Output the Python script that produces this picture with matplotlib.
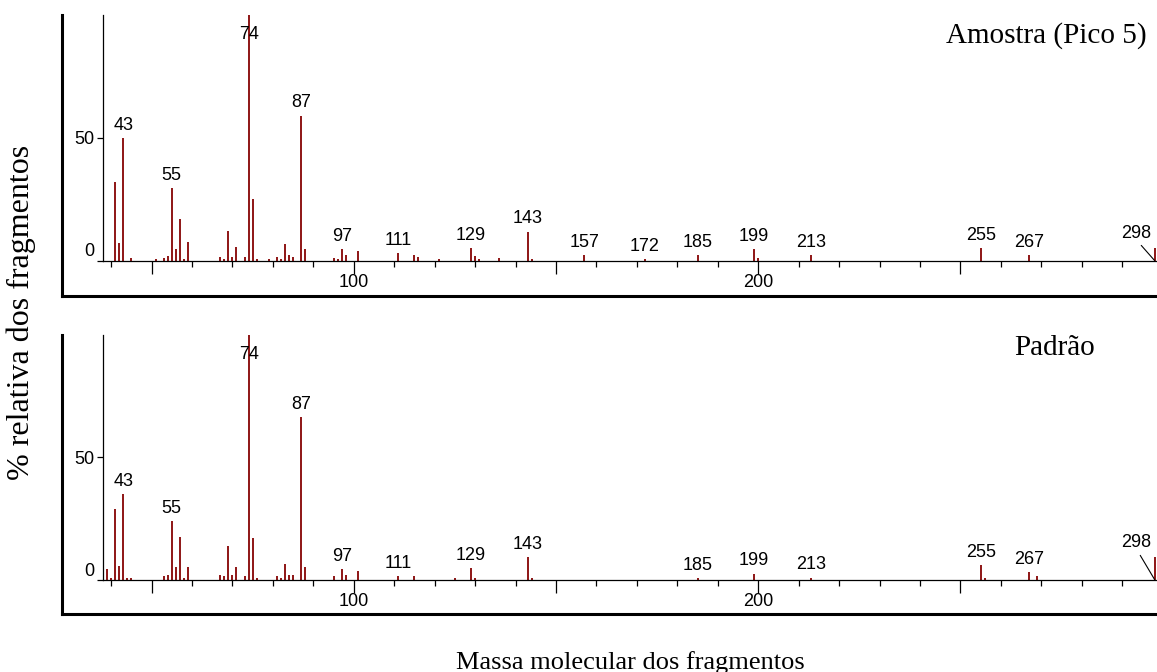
import matplotlib
matplotlib.use("Agg")
import matplotlib.pyplot as plt

# Espectro da amostra (pico 5): m/z e intensidade relativa (%)
amostra_mz = [41, 42, 43, 45, 51, 53, 54, 55, 56, 57, 58, 59, 67, 68, 69, 70, 71, 73,
              74, 75, 76, 79, 81, 82, 83, 84, 85, 87, 88, 95, 96, 97, 98, 101,
              111, 115, 116, 121, 129, 130, 131, 136, 143, 144, 157, 172, 185,
              199, 200, 213, 255, 267, 298]
amostra_int = [32, 7, 50, 1, 0.5, 1, 1.7, 29.6, 4.7, 17, 0.5, 7.5, 1.6, 0.5, 12, 1.6, 5.4, 1.6,
               100, 25, 0.5, 0.5, 1.6, 0.5, 6.7, 2.3, 1.6, 59, 4.7, 1, 0.5, 4.7, 2.3, 3.8,
               3.1, 2.3, 1.5, 0.7, 5.2, 1.7, 0.7, 0.9, 11.8, 0.7, 2.3, 0.7, 2.3,
               4.6, 1.2, 2.3, 5.2, 2.3, 5.2]
amostra_rotulos = [43, 55, 74, 87, 97, 111, 129, 143, 157, 172, 185, 199, 213, 255, 267, 298]

# Espectro do padrao
padrao_mz = [39, 40, 41, 42, 43, 44, 45, 53, 54, 55, 56, 57, 58, 59, 67, 68, 69, 70, 71, 73,
             74, 75, 76, 81, 82, 83, 84, 85, 87, 88, 95, 97, 98, 101,
             111, 115, 125, 129, 130, 143, 144, 185, 199, 213, 255, 256, 267, 269, 298]
padrao_int = [4.3, 0.8, 29, 5.6, 34.8, 0.7, 0.7, 1.3, 2, 24, 5, 17.3, 0.7, 5, 2, 1.3, 13.7, 2, 5, 1.3,
              100, 16.8, 0.7, 1.3, 0.7, 6.4, 2, 2, 66.4, 5, 1.3, 4.4, 2, 3.5,
              1.3, 1.3, 0.7, 4.5, 0.8, 9.3, 0.5, 0.5, 2.4, 0.8, 5.9, 0.5, 3.1, 1.3, 9]
padrao_rotulos = [43, 55, 74, 87, 97, 111, 129, 143, 185, 199, 213, 255, 267, 298]

W, H = 1157, 672
fig = plt.figure(figsize=(W / 100, H / 100), dpi=100)

def fx(px):
    return px / W

def fy(py):
    return 1 - py / H

cor = "#8e1515"
fonte_num = dict(family="Liberation Sans", fontsize=13)
serif = dict(family="Liberation Serif")


def painel(base, topo, moldura_topo, moldura_base, mz, inten, rotulos, titulo, tit_x, tit_y):
    # moldura externa em L
    fr = fig.add_axes([fx(62), fy(moldura_base), 1 - fx(62), (moldura_base - moldura_topo) / H])
    fr.set_facecolor("none")
    for s in ["top", "right"]:
        fr.spines[s].set_visible(False)
    for s in ["left", "bottom"]:
        fr.spines[s].set_linewidth(2.2)
    fr.set_xticks([])
    fr.set_yticks([])

    ax = fig.add_axes([fx(103), fy(base), 1 - fx(103), (base - topo) / H])
    ax.set_facecolor("none")
    ax.vlines(mz, 0, inten, color=cor, lw=1.4)
    ax.set_xlim(38, 298.6)
    ax.set_ylim(0, 100)
    for s in ["top", "right"]:
        ax.spines[s].set_visible(False)
    for s in ["left", "bottom"]:
        ax.spines[s].set_linewidth(0.9)
    ax.set_xticks([50, 100, 150, 200, 250], labels=["", "100", "", "200", ""], **fonte_num)
    ax.set_xticks(range(40, 300, 10), minor=True)
    ax.tick_params(axis="x", which="major", length=9, width=0.9, pad=1)
    ax.tick_params(axis="x", which="minor", length=4, width=0.9)
    ax.set_yticks([0, 50], labels=["0", "50"], **fonte_num)
    ax.get_yticklabels()[0].set_va("bottom")
    ax.tick_params(axis="y", length=4, width=0.9, pad=2)

    alturas = dict(zip(mz, inten))
    for m in rotulos:
        h = alturas[m]
        if m == 298:
            ax.annotate(str(m), xy=(m, 0), xytext=(m - 4.5, h + 2.5), textcoords="data",
                        ha="center", va="bottom", annotation_clip=False,
                        arrowprops=dict(arrowstyle="-", lw=0.8, color="black",
                                        shrinkA=1, shrinkB=0, relpos=(0.55, 0)),
                        **fonte_num)
        else:
            ax.annotate(str(m), xy=(m, min(h, 87)), xytext=(0, 3), textcoords="offset points",
                        ha="center", va="bottom", annotation_clip=False, **fonte_num)

    fig.text(fx(tit_x), fy(tit_y), titulo, ha="right", va="baseline", fontsize=21, **serif)


painel(260.5, 15, 15, 296, amostra_mz, amostra_int, amostra_rotulos,
       "Amostra (Pico 5)", 1147, 43)
painel(579.5, 335, 335, 614, padrao_mz, padrao_int, padrao_rotulos,
       "Padrão", 1095, 355)

fig.text(fx(21), fy(312), "% relativa dos fragmentos", rotation=90,
         ha="center", va="center", fontsize=23, **serif)
fig.text(fx(630), fy(669), "Massa molecular dos fragmentos",
         ha="center", va="baseline", fontsize=19, **serif)

fig.savefig("out.png", dpi=100)
